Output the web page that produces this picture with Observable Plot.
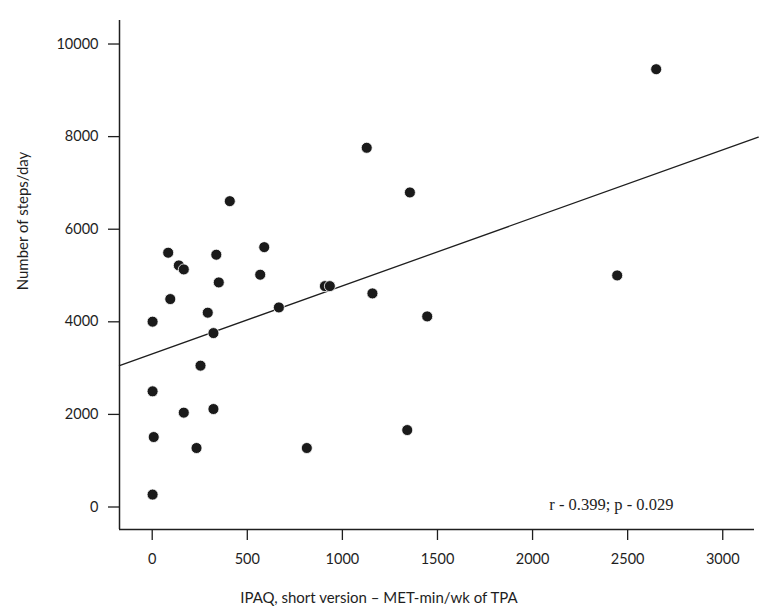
<!DOCTYPE html>
<html>
<head>
<meta charset="utf-8">
<script src="https://cdn.jsdelivr.net/npm/d3@7"></script>
<script src="https://cdn.jsdelivr.net/npm/@observablehq/plot@0.6"></script>
<style>
  html, body { margin: 0; padding: 0; background: #fff; }
  #chart { width: 776px; height: 616px; }
</style>
</head>
<body>
<div id="chart"></div>
<script>
// MET-min/wk of total physical activity (IPAQ short version)
const metMinWk = [84, 337, 589, 140, 166, 350, 568, 908, 934, 1158,
                  95, 292, 2, 666, 1446, 322, 254, 2, 166, 322,
                  1341, 8, 233, 813, 2, 408, 1128, 1355, 2650, 2445];
// Number of steps/day
const stepsDay = [5492, 5449, 5613, 5218, 5132, 4851, 5017, 4771, 4771, 4614,
                  4491, 4197, 4003, 4311, 4117, 3756, 3053, 2498, 2038, 2116,
                  1662, 1511, 1274, 1274, 268, 6606, 7759, 6794, 9456, 5002];

const xTicks = [0, 500, 1000, 1500, 2000, 2500, 3000];
const yTicks = [0, 2000, 4000, 6000, 8000, 10000];
const xDomain = [-172, 3167];
const yDomain = [-486, 10508];

// fitted regression line
const fitIntercept = 3307;
const fitSlope = 1.469;
const fitX = [-172, 3187];

const xTitle = "IPAQ, short version \u2013 MET-min/wk of TPA";
const yTitle = "Number of steps/day";
const statsNote = "r - 0.399; p - 0.029";

const points = metMinWk.map((x, i) => ({x, y: stepsDay[i]}));
const fitLine = fitX.map(x => ({x, y: fitIntercept + fitSlope * x}));

const ink = "#1e1e1e";
const sans = "Lato, 'Open Sans', sans-serif";

const chart = Plot.plot({
  width: 776,
  height: 616,
  marginLeft: 119,
  marginRight: 22,
  marginTop: 20,
  marginBottom: 87,
  style: {fontFamily: sans, color: ink, background: "#fff"},
  x: {domain: xDomain, ticks: xTicks, label: null},
  y: {domain: yDomain, ticks: yTicks, label: null},
  marks: [
    Plot.axisX({ticks: xTicks, tickSize: 11, tickPadding: 13, fontSize: 14.5, tickFormat: d => String(d), stroke: ink, strokeWidth: 1.3, label: null}),
    Plot.axisY({ticks: yTicks, tickSize: 11, tickPadding: 10, fontSize: 14.5, tickFormat: d => String(d), stroke: ink, strokeWidth: 1.3, label: null}),
    Plot.ruleX([xDomain[0]], {stroke: ink, strokeWidth: 1.5}),
    Plot.ruleY([yDomain[0]], {stroke: ink, strokeWidth: 1.5}),
    Plot.line(fitLine, {x: "x", y: "y", stroke: ink, strokeWidth: 1.3, clip: false}),
    Plot.dot(points, {x: "x", y: "y", r: 5.5, fill: "#1a1a1a", stroke: "#fff", strokeWidth: 0.8}),
    Plot.text([statsNote], {frameAnchor: "bottom-right", textAnchor: "end", dx: -81, dy: -20,
      fontFamily: "'Liberation Serif', serif", fontSize: 16.5, fill: ink}),
    Plot.text([xTitle], {frameAnchor: "bottom", textAnchor: "middle", dx: -58, dy: 73, fontSize: 15, fill: ink}),
    Plot.text([yTitle], {frameAnchor: "left", textAnchor: "middle", rotate: -90, dx: -96, dy: -54, fontSize: 15, fill: ink})
  ]
});
document.getElementById("chart").appendChild(chart);
</script>
</body>
</html>
